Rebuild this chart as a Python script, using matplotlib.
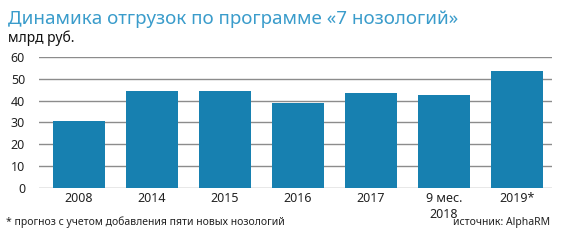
import matplotlib.pyplot as plt

plt.rcParams["font.family"] = ["Noto Sans", "DejaVu Sans"]

categories = ["2008", "2014", "2015", "2016", "2017", "9 мес.\n2018", "2019*"]
values = [30.7, 44.5, 44.3, 39.0, 43.7, 42.6, 53.6]
yticks = [0, 10, 20, 30, 40, 50, 60]

BAR = "#1780b0"
TITLE = "#3a9ccb"
GRID = "#8c8c8c"

fig = plt.figure(figsize=(5.7, 2.47), dpi=100)
ax = fig.add_axes([0.0684, 0.2389, 0.8996, 0.5303])

x = range(len(categories))
ax.bar(x, values, width=0.71, color=BAR, zorder=3)

ax.set_ylim(0, 60)
ax.set_xlim(-0.548, 6.48)
ax.set_yticks(yticks)
ax.set_xticks(list(x))
ax.set_xticklabels(categories, fontsize=9, linespacing=1.3)
ax.tick_params(axis="both", length=0, colors="#222222", labelsize=9)
ax.tick_params(axis="y", pad=10)
ax.tick_params(axis="x", pad=3)
for lab in ax.get_yticklabels():
    lab.set_horizontalalignment("right")

ax.grid(axis="y", color=GRID, linewidth=1.0, zorder=0)
for s in ax.spines.values():
    s.set_visible(False)

fig.text(0.014, 0.925, "Динамика отгрузок по программе «7 нозологий»",
         fontsize=13.5, color=TITLE, va="center", ha="left")
fig.text(0.014, 0.845, "млрд руб.", fontsize=10, color="#111111",
         va="center", ha="left")
fig.text(0.010, 0.10, "* прогноз с учетом добавления пяти новых нозологий",
         fontsize=7.5, color="#222222", va="center", ha="left")
fig.text(0.965, 0.10, "источник: AlphaRM", fontsize=7.5, color="#222222",
         va="center", ha="right")

fig.savefig("out.png", dpi=100)
